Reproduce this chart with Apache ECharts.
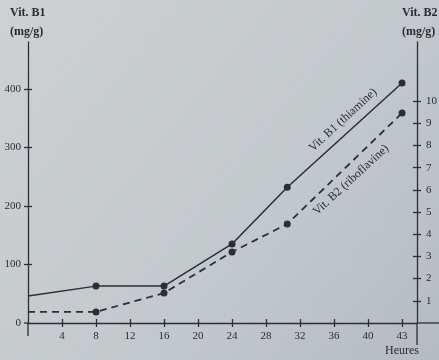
<!DOCTYPE html>
<html>
<head>
<meta charset="utf-8">
<script src="https://cdn.jsdelivr.net/npm/echarts@6/dist/echarts.min.js"></script>
<style>
html,body{margin:0;padding:0;background:#c4c9cc;}
#c{width:439px;height:360px;}
</style>
</head>
<body>
<div id="c"></div>
<script>
// ---- data ----
var hours = [0, 8, 16, 24, 30.5, 43];
var vitB1 = [46, 63, 63, 135, 232, 410];          // mg/g, left axis
var vitB2 = [0.5, 0.5, 1.35, 3.2, 4.46, 9.46];     // mg/g, right axis
var xTickLabels = [0, 4, 8, 12, 16, 20, 24, 28, 32, 36, 40, 43];
var leftTickLabels = [0, 100, 200, 300, 400];
var rightTickLabels = [1, 2, 3, 4, 5, 6, 7, 8, 9, 10];

// The printed hour axis is evenly spaced per tick (the last tick "43" sits one step after 40).
// Map an hour to its position along the drawn axis (tick index * 4) by piecewise interpolation.
function axisPos(h) {
  for (var i = 1; i < xTickLabels.length; i++) {
    var a = xTickLabels[i - 1], b = xTickLabels[i];
    if (h <= b) return (i - 1) * 4 + (h - a) / (b - a) * 4;
  }
  return (xTickLabels.length - 1) * 4;
}
var xTickPos = xTickLabels.map(function (v, i) { return i * 4; });
function posLabel(p) {
  var i = Math.round(p / 4);
  return i > 0 && i < xTickLabels.length ? String(xTickLabels[i]) : '';
}

var ink = '#2b2d38';
var txt = '#2a2b2f';
var serif = 'Liberation Serif';

function pts(vals) {
  return hours.map(function (h, i) {
    var d = { value: [axisPos(h), vals[i]] };
    if (i === 0) d.symbol = 'none';
    return d;
  });
}

var X_MAX = 45.76;
function xAx(inside, show) {
  return {
    type: 'value', min: 0, max: X_MAX, position: 'bottom',
    axisLine: { show: show, lineStyle: { color: ink, width: 1.3 } },
    axisTick: { show: true, inside: inside, length: 4, customValues: xTickPos.slice(1),
                lineStyle: { color: ink, width: 1.3 } },
    axisLabel: { show: show, customValues: xTickPos.slice(1), formatter: posLabel,
                 color: txt, fontFamily: serif, fontSize: 11, margin: 8 },
    splitLine: { show: false }
  };
}
function yAx(pos, max, ticks, labels, inside, show) {
  return {
    type: 'value', position: pos, min: 0, max: max,
    axisLine: { show: show, onZero: false, lineStyle: { color: ink, width: 1.3 } },
    axisTick: { show: true, inside: inside, length: 4, customValues: ticks,
                lineStyle: { color: ink, width: 1.3 } },
    axisLabel: { show: show, customValues: labels, color: txt, fontFamily: serif,
                 fontSize: 11, margin: pos === 'left' ? 7 : 9 },
    splitLine: { show: false }
  };
}

var chart = echarts.init(document.getElementById('c'));
chart.setOption({
  backgroundColor: {
    type: 'linear', x: 0, y: 0, x2: 1, y2: 1,
    colorStops: [{ offset: 0, color: '#cdd1d3' }, { offset: 0.6, color: '#c3c8cc' }, { offset: 1, color: '#b6bbc0' }]
  },
  animation: false,
  grid: { left: 28, right: 22, top: 42, bottom: 37, outerBoundsMode: 'none', containLabel: false },
  xAxis: [xAx(false, true), xAx(true, false)],
  yAxis: [
    yAx('left', 480, leftTickLabels.slice(1), leftTickLabels, false, true),
    yAx('right', 12.66, rightTickLabels, rightTickLabels, false, true),
    yAx('left', 480, leftTickLabels.slice(1), [], true, false),
    yAx('right', 12.66, rightTickLabels, [], true, false)
  ],
  series: [
    { name: 'Vit. B1 (thiamine)', type: 'line', xAxisIndex: 0, yAxisIndex: 0,
      data: pts(vitB1), symbol: 'circle', symbolSize: 7,
      lineStyle: { color: ink, width: 1.5 }, itemStyle: { color: ink } },
    { name: 'Vit. B2 (riboflavine)', type: 'line', xAxisIndex: 0, yAxisIndex: 1,
      data: pts(vitB2), symbol: 'circle', symbolSize: 7,
      lineStyle: { color: ink, width: 1.8, type: [7, 5] }, itemStyle: { color: ink } }
  ],
  graphic: [
    { type: 'text', left: 10, top: 7, style: { text: 'Vit. B1', font: 'bold 12px "Liberation Serif"', fill: txt } },
    { type: 'text', left: 10, top: 26, style: { text: '(mg/g)', font: 'bold 12px "Liberation Serif"', fill: txt } },
    { type: 'text', left: 402, top: 7, style: { text: 'Vit. B2', font: 'bold 12px "Liberation Serif"', fill: txt } },
    { type: 'text', left: 402, top: 26, style: { text: '(mg/g)', font: 'bold 12px "Liberation Serif"', fill: txt } },
    { type: 'text', left: 385, top: 345, style: { text: 'Heures', font: '12px "Liberation Serif"', fill: txt } },
    { type: 'text', x: 343, y: 120, rotation: 0.743,
      style: { text: 'Vit. B1 (thiamine)', font: '12px "Liberation Serif"', fill: txt, align: 'center', verticalAlign: 'middle' } },
    { type: 'text', x: 351, y: 180, rotation: 0.743,
      style: { text: 'Vit. B2 (riboflavine)', font: '12px "Liberation Serif"', fill: txt, align: 'center', verticalAlign: 'middle' } },
    // axis line overhangs as drawn in the original
    { type: 'line', shape: { x1: 28, y1: 323, x2: 28, y2: 336 }, style: { stroke: ink, lineWidth: 1.3 } },
    { type: 'line', shape: { x1: 417, y1: 323, x2: 417, y2: 345 }, style: { stroke: ink, lineWidth: 1.3 } },
    { type: 'line', shape: { x1: 417, y1: 323, x2: 439, y2: 323 }, style: { stroke: ink, lineWidth: 1.3 } },
    { type: 'line', shape: { x1: 24, y1: 323, x2: 28, y2: 323 }, style: { stroke: ink, lineWidth: 1.3 } }
  ]
});
</script>
</body>
</html>
